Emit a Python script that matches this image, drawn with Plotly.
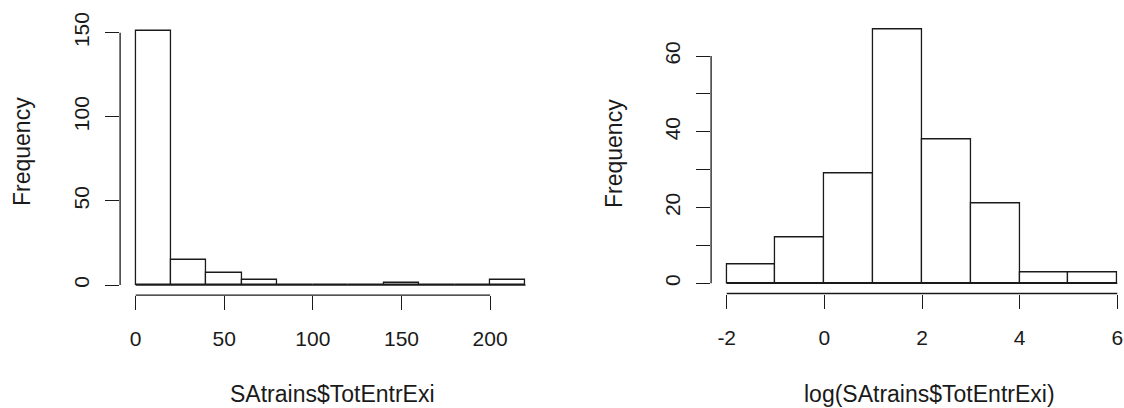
import numpy as np
import plotly.graph_objects as go

# ---- data ----
left_breaks = [0, 20, 40, 60, 80, 100, 120, 140, 160, 180, 200, 220]
left_counts = [151, 15, 7, 3, 0, 0, 0, 1, 0, 0, 3]
left_xticks = [0, 50, 100, 150, 200]
left_yticks = [0, 50, 100, 150]
left_ylabels = ["0", "50", "100", "150"]

right_breaks = [-2, -1, 0, 1, 2, 3, 4, 5, 6]
right_counts = [5, 12, 29, 67, 38, 21, 3, 3]
right_xticks = [-2, 0, 2, 4, 6]
right_yticks = [0, 10, 20, 30, 40, 50, 60]
right_ylabels = ["0", "", "20", "", "40", "", "60"]

left_xtitle = "SAtrains$TotEntrExi"
right_xtitle = "log(SAtrains$TotEntrExi)"
ytitle = "Frequency"

W, H = 1124, 408
FONT = "Liberation Sans, Arial, sans-serif"
FS = 21
FS_T = 23
INK = "#1a1a1a"
LW = 1.3


def ext(lo, hi, f=0.04):
    d = (hi - lo) * f
    return [lo - d, hi + d]


fig = go.Figure()

panels = [
    dict(breaks=left_breaks, counts=left_counts, xt=left_xticks, yt=left_yticks,
         yl=left_ylabels, xa="x", ya="y", xdom=[120.1 / W, 541.1 / W],
         ydom=[(H - 295.2) / H, (H - 20.9) / H], crop=1.0,
         xtitle=left_xtitle, xtitle_px=332, ytitle_px=22, ytitle_py=152),
    dict(breaks=right_breaks, counts=right_counts, xt=right_xticks, yt=right_yticks,
         yl=right_ylabels, xa="x2", ya="y2", xdom=[711.1 / W, 1.0],
         ydom=[(H - 293.5) / H, (H - 19.4) / H], crop=(W - 711.1) / 421.8,
         xtitle=right_xtitle, xtitle_px=929, ytitle_px=614, ytitle_py=154),
]

layout_axes = {}
shapes = []
annotations = []
for i, p in enumerate(panels):
    b = np.array(p["breaks"], dtype=float)
    c = np.array(p["counts"], dtype=float)
    mids = (b[:-1] + b[1:]) / 2
    widths = np.diff(b)
    fig.add_trace(go.Bar(
        x=mids, y=c, width=widths, xaxis=p["xa"], yaxis=p["ya"],
        marker=dict(color="white", line=dict(color=INK, width=LW)),
        showlegend=False, hoverinfo="x+y",
    ))
    xr = ext(b[0], b[-1])
    xr = [xr[0], xr[0] + (xr[1] - xr[0]) * p["crop"]]
    yr = ext(0, c.max())
    suffix = "" if i == 0 else str(i + 1)
    layout_axes["xaxis" + suffix] = dict(
        domain=p["xdom"], range=xr, anchor=p["ya"], showgrid=False, zeroline=False,
        showline=False, ticks="outside", ticklen=14, tickwidth=LW, tickcolor=INK,
        tickvals=p["xt"], ticktext=[str(v) for v in p["xt"]], automargin=False,
        tickfont=dict(family=FONT, size=FS, color=INK), ticklabelstandoff=11,
        fixedrange=True,
    )
    layout_axes["yaxis" + suffix] = dict(
        domain=p["ydom"], range=yr, anchor=p["xa"], showgrid=False, zeroline=False,
        showline=False, ticks="outside", ticklen=14, tickwidth=LW, tickcolor=INK,
        tickvals=p["yt"], ticktext=p["yl"], tickangle=-90, automargin=False,
        tickfont=dict(family=FONT, size=FS, color=INK), ticklabelstandoff=8,
        fixedrange=True,
    )
    # R-style axis lines spanning first to last tick
    shapes.append(dict(type="line", xref=p["xa"], yref=p["ya"] + " domain",
                       x0=p["xt"][0], x1=p["xt"][-1], y0=0, y1=0,
                       line=dict(color=INK, width=LW)))
    shapes.append(dict(type="line", xref=p["xa"] + " domain", yref=p["ya"],
                       x0=0, x1=0, y0=p["yt"][0], y1=p["yt"][-1],
                       line=dict(color=INK, width=LW)))
    # baseline across zero-count bins
    shapes.append(dict(type="line", xref=p["xa"], yref=p["ya"],
                       x0=b[0], x1=b[-1], y0=0, y1=0,
                       line=dict(color=INK, width=LW)))
    annotations.append(dict(text=p["xtitle"], xref="paper", yref="paper",
                            x=p["xtitle_px"] / W, y=1 - 394 / H, showarrow=False,
                            xanchor="center", yanchor="middle",
                            font=dict(family=FONT, size=FS_T, color=INK)))
    annotations.append(dict(text=ytitle, xref="paper", yref="paper",
                            x=p["ytitle_px"] / W, y=1 - p["ytitle_py"] / H,
                            showarrow=False, textangle=-90,
                            xanchor="center", yanchor="middle",
                            font=dict(family=FONT, size=FS_T, color=INK)))

fig.update_layout(
    template="none",
    width=W, height=H, margin=dict(l=0, r=0, t=0, b=0, autoexpand=False),
    plot_bgcolor="white", paper_bgcolor="white", bargap=0,
    shapes=shapes, annotations=annotations, **layout_axes,
)

fig.write_html(
    "out.html",
    config={"displayModeBar": False},
    post_script="document.body.style.margin='0';document.body.style.overflow='hidden';",
)
